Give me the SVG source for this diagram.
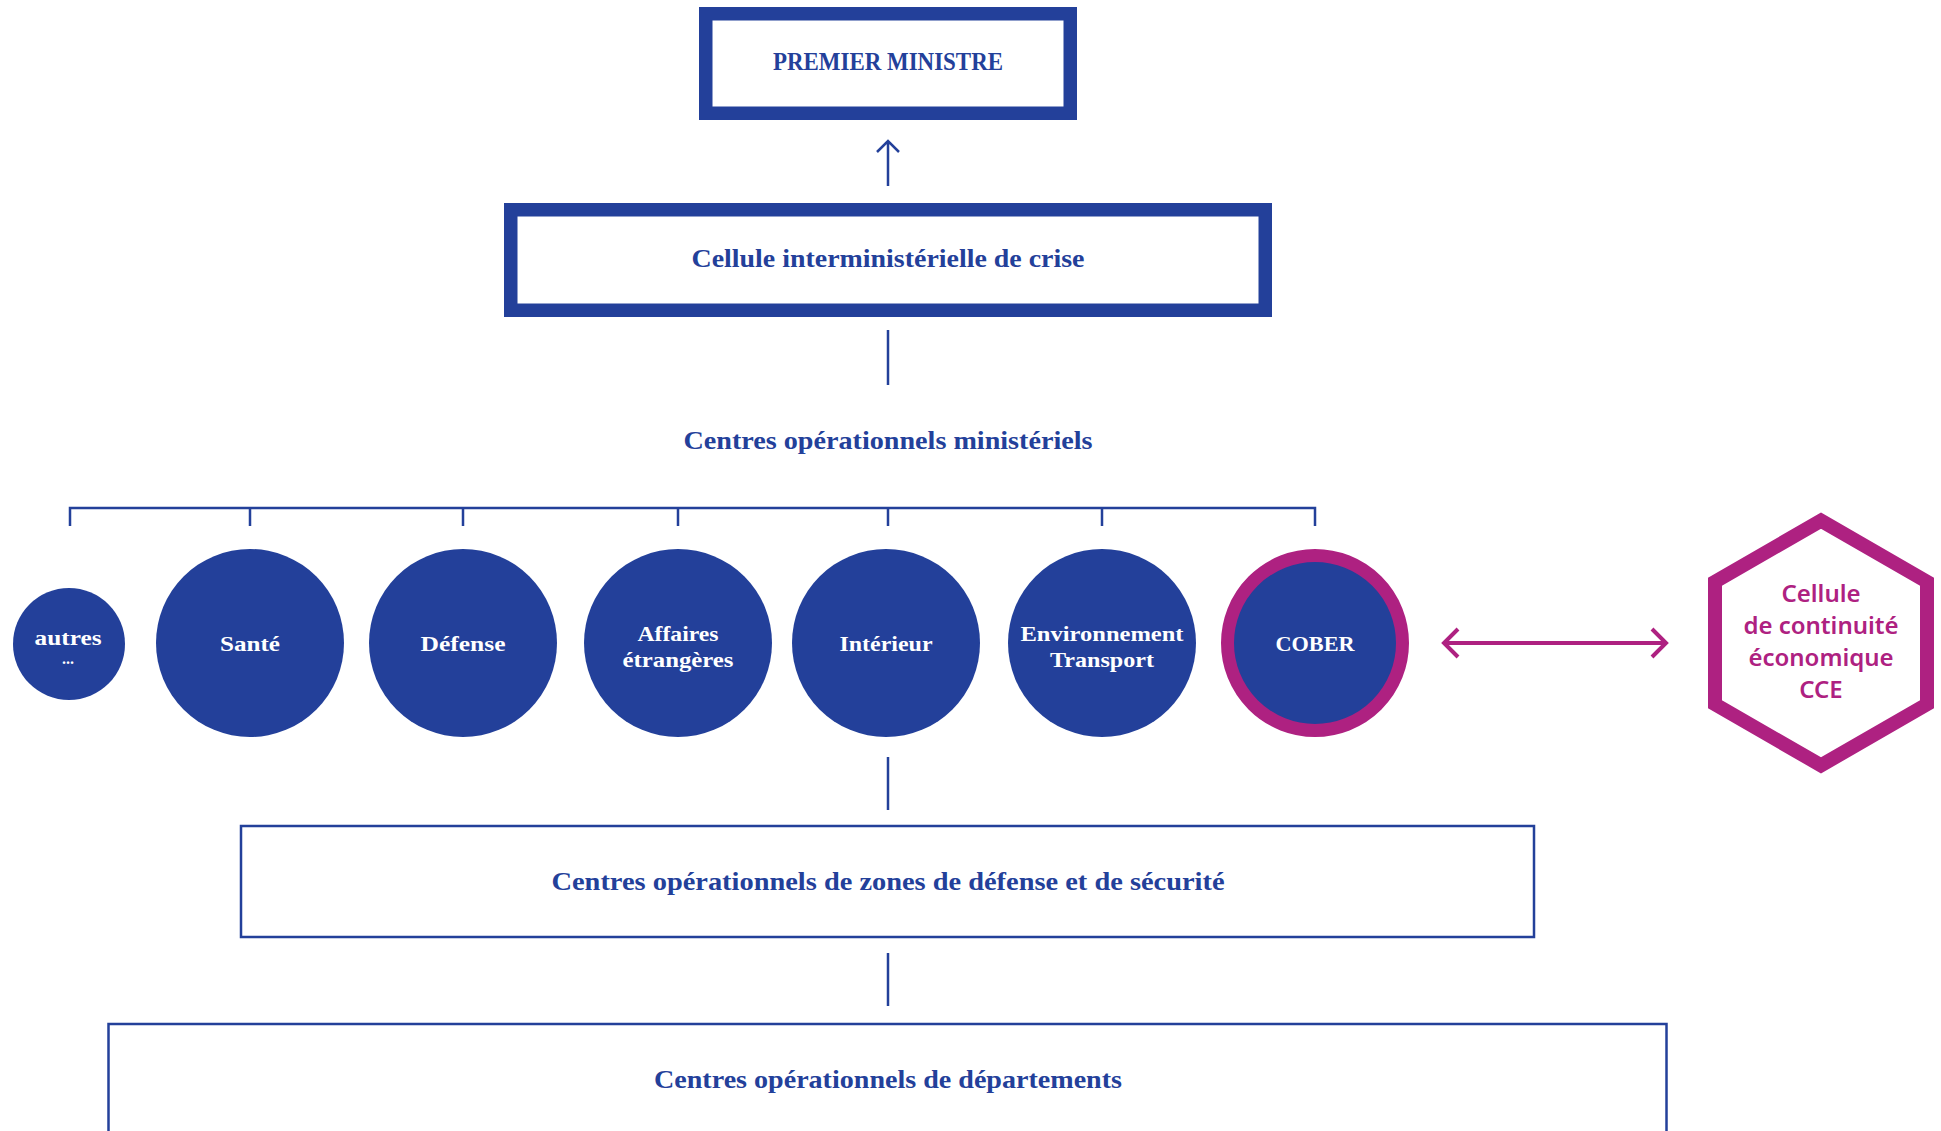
<svg xmlns="http://www.w3.org/2000/svg" width="1941" height="1131" viewBox="0 0 1941 1131">
<style>
.bg{fill:#ffffff}
.thick{fill:#ffffff;stroke:#23409a;stroke-width:13.5}
.thin{fill:#ffffff;stroke:#23409a;stroke-width:2.5}
.lbl{font-family:"Liberation Serif","DejaVu Serif",serif;font-weight:bold;fill:#23409a;text-anchor:middle;font-size:25px}
.wl{font-family:"Liberation Serif","DejaVu Serif",serif;font-weight:bold;fill:#ffffff;text-anchor:middle;font-size:22px}
.dot{fill:#23409a}
.conn{stroke:#23409a;stroke-width:2.5;fill:none}
.mag{stroke:#ae2181;fill:none}
.hex{font-family:"Noto Sans","Open Sans",sans-serif;font-weight:600;fill:#ae2181;text-anchor:middle;font-size:24px}
</style>
<rect class="bg" x="0" y="0" width="1941" height="1131"/>
<g id="connectors">
  <path class="conn" d="M888 186 V141 M877 152 L888 141 L899 152"/>
  <path class="conn" d="M888 330 V385"/>
  <path class="conn" d="M70 526 V508 H1315 V526 M250 508 V526 M463 508 V526 M678 508 V526 M888 508 V526 M1102 508 V526"/>
  <path class="conn" d="M888 757 V810"/>
  <path class="conn" d="M888 953 V1006"/>
  <path class="mag" stroke-width="4" d="M1444 643 H1666 M1458 629 L1444 643 L1458 657 M1652 629 L1666 643 L1652 657"/>
</g>
<g id="premier-ministre">
  <rect class="thick" x="705.75" y="13.75" width="364.5" height="99.5"/>
  <text class="lbl" x="888" y="70" font-size="24" textLength="230" lengthAdjust="spacingAndGlyphs">PREMIER MINISTRE</text>
</g>
<g id="cic">
  <rect class="thick" x="510.75" y="209.75" width="754.5" height="100.5"/>
  <text class="lbl" x="888" y="267" textLength="393" lengthAdjust="spacingAndGlyphs">Cellule interministérielle de crise</text>
</g>
<g id="com">
  <text class="lbl" x="888" y="449" textLength="409" lengthAdjust="spacingAndGlyphs">Centres opérationnels ministériels</text>
</g>
<g id="autres">
  <circle class="dot" cx="69" cy="644" r="56"/>
  <text class="wl"><tspan x="68" y="645" textLength="67" lengthAdjust="spacingAndGlyphs">autres</tspan><tspan x="68" y="664" font-size="16">...</tspan></text>
</g>
<g id="sante">
  <circle class="dot" cx="250" cy="643" r="94"/>
  <text class="wl" x="250" y="651" textLength="60" lengthAdjust="spacingAndGlyphs">Santé</text>
</g>
<g id="defense">
  <circle class="dot" cx="463" cy="643" r="94"/>
  <text class="wl" x="463" y="651" textLength="85" lengthAdjust="spacingAndGlyphs">Défense</text>
</g>
<g id="affaires">
  <circle class="dot" cx="678" cy="643" r="94"/>
  <text class="wl" x="678" y="641" textLength="81" lengthAdjust="spacingAndGlyphs">Affaires</text>
  <text class="wl" x="678" y="667" textLength="111" lengthAdjust="spacingAndGlyphs">étrangères</text>
</g>
<g id="interieur">
  <circle class="dot" cx="886" cy="643" r="94"/>
  <text class="wl" x="886" y="651" textLength="93" lengthAdjust="spacingAndGlyphs">Intérieur</text>
</g>
<g id="environnement">
  <circle class="dot" cx="1102" cy="643" r="94"/>
  <text class="wl" x="1102" y="641" textLength="163" lengthAdjust="spacingAndGlyphs">Environnement</text>
  <text class="wl" x="1102" y="667" textLength="104" lengthAdjust="spacingAndGlyphs">Transport</text>
</g>
<g id="cober">
  <circle cx="1315" cy="643" r="87.5" fill="#23409a" stroke="#ae2181" stroke-width="13"/>
  <text class="wl" x="1315" y="651" textLength="79" lengthAdjust="spacingAndGlyphs">COBER</text>
</g>
<g id="cce">
  <polygon class="mag" stroke-width="14" stroke-linejoin="miter" points="1821,520.6 1927,581.8 1927,704.2 1821,765.4 1715,704.2 1715,581.8"/>
  <text class="hex" x="1821" y="602">Cellule</text>
  <text class="hex" x="1821" y="634">de continuité</text>
  <text class="hex" x="1821" y="666">économique</text>
  <text class="hex" x="1821" y="698">CCE</text>
</g>
<g id="zones">
  <rect class="thin" x="241" y="826" width="1293" height="111"/>
  <text class="lbl" x="888" y="890" textLength="673" lengthAdjust="spacingAndGlyphs">Centres opérationnels de zones de défense et de sécurité</text>
</g>
<g id="departements">
  <rect class="thin" x="108.5" y="1024" width="1558" height="130"/>
  <text class="lbl" x="888" y="1088" textLength="468" lengthAdjust="spacingAndGlyphs">Centres opérationnels de départements</text>
</g>
</svg>
